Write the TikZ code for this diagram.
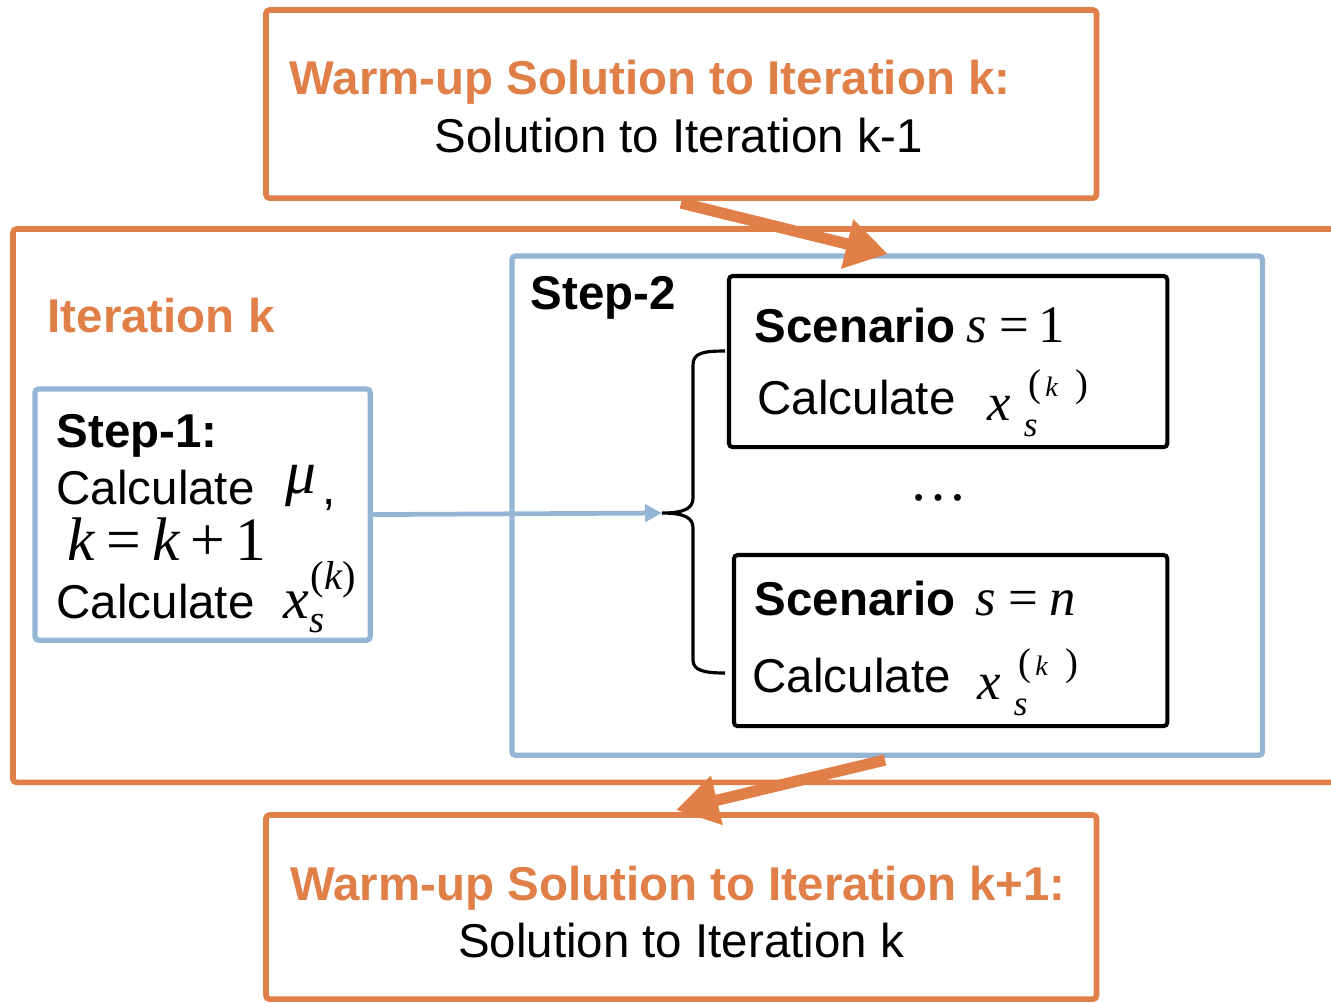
\documentclass[tikz,border=0pt]{standalone}
\usepackage{fontspec}
\setmainfont{Liberation Sans}
\newfontfamily\tnr{Liberation Serif}
\usetikzlibrary{arrows.meta}
\definecolor{warm}{HTML}{E07F47}
\definecolor{stepblue}{HTML}{94B6D4}
\newcommand\bodyfont{\fontsize{13.5}{16}\selectfont}
\newcommand\mathfont{\tnr\fontsize{16.5}{18}\selectfont}
\newcommand\bigmathfont{\tnr\fontsize{17.5}{19}\selectfont}
\newcommand\scenfont{\tnr\fontsize{15}{17}\selectfont}
% x_s^{(k)} as set inside the scenario boxes
\newcommand\scenx{{\itshape x}\hspace{3.6pt}\rlap{\raisebox{-4.6pt}{\fontsize{10}{10}\selectfont\itshape s}}\hspace{1.4pt}\raisebox{6.8pt}{\fontsize{11}{11}\selectfont(\hspace{1.1pt}{\fontsize{8}{8}\selectfont\itshape k}\hspace{5pt})}}
\begin{document}
\begin{tikzpicture}[x=0.01cm,y=-0.01cm,
  frame/.style={draw,line width=1.6pt,rounded corners=1pt,anchor=north west,inner sep=0pt,outer sep=0pt},
  orangebox/.style={frame,draw=warm},
  bluebox/.style={frame,draw=stepblue,line width=1.5pt},
  scenbox/.style={frame,draw=black,line width=1.15pt},
  txt/.style={inner sep=0pt,anchor=base west,font=\bodyfont},
  ctxt/.style={txt,anchor=base},
  title/.style={ctxt,font=\bodyfont\bfseries,text=warm},
  bold/.style={txt,font=\bodyfont\bfseries},
  mth/.style={inner sep=0pt,anchor=base west,font=\mathfont},
  smth/.style={inner sep=0pt,anchor=base west,font=\scenfont},
  fatarrow/.style={draw=warm,line width=3.2pt,-{Triangle[length=0.42cm,width=0.48cm]}},
  thinarrow/.style={draw=stepblue,line width=1.35pt,-{Triangle[length=0.17cm,width=0.17cm]}},
  bracestyle/.style={draw=black,line width=0.9pt}]
\useasboundingbox (0,0) rectangle (1331,1002);

% boxes
\node[orangebox,minimum width=8.30cm,minimum height=1.88cm] (prev) at (266,10) {};
\node[orangebox,minimum width=13.40cm,minimum height=5.53cm] (iter) at (13,229) {};
\node[bluebox,minimum width=7.50cm,minimum height=4.99cm] (step2) at (512,256) {};
\node[bluebox,minimum width=3.35cm,minimum height=2.51cm] (step1) at (35,389) {};
\node[scenbox,minimum width=4.38cm,minimum height=1.71cm] (scen1) at (729,276) {};
\node[scenbox,minimum width=4.33cm,minimum height=1.71cm] (scenn) at (734,555) {};
\node[orangebox,minimum width=8.30cm,minimum height=1.84cm] (next) at (266,815) {};

% texts of the warm-up boxes
\node[title] (prevtitle) at (650,94) {Warm-up Solution to Iteration k:};
\node[ctxt] (prevtext) at (679,152) {Solution to Iteration k-1};
\node[title] (nexttitle) at (678,900) {Warm-up Solution to Iteration k+1:};
\node[ctxt] (nexttext) at (681,957) {Solution to Iteration k};

% iteration label and step titles
\node[txt,font=\bodyfont\bfseries,text=warm] (iterlbl) at (47,332) {Iteration k};
\node[bold] (step2lbl) at (530,309) {Step-2};

% step 1
\node[bold] (s1a) at (56,447) {Step-1:};
\node[txt] (s1b) at (56,504) {Calculate};
\node[mth,font=\bigmathfont] (s1mu) at (285,493) {{\itshape μ}};
\node[txt] (s1comma) at (322,504) {,};
\node[mth,font=\bigmathfont] (s1k) at (67,560) {{\itshape k}\hspace{3.2pt}=\hspace{3.2pt}{\itshape k}\hspace{3pt}+\hspace{3pt}1};
\node[txt] (s1c) at (56,618) {Calculate};
\node[mth] (s1x) at (283,618) {{\itshape x}\rlap{\raisebox{-4.2pt}{\fontsize{11}{11}\selectfont\itshape s}}\hspace{0.3pt}\raisebox{8pt}{\fontsize{11.5}{12}\selectfont(\hspace{0.2pt}{\itshape k})}};

% scenario s = 1
\node[bold] (sc1a) at (754,342) {Scenario};
\node[smth] (sc1eq) at (966,342) {{\itshape s}\hspace{3.4pt}=\hspace{2.8pt}1};
\node[txt] (sc1b) at (757,414) {Calculate};
\node[smth] (sc1x) at (987,420) {\scenx};

% dots between the scenarios
\node[inner sep=0pt,anchor=base,font=\mathfont] (dots) at (938,500) {…};

% scenario s = n
\node[bold] (scna) at (754,615) {Scenario};
\node[smth] (scneq) at (975,615) {{\itshape s}\hspace{3.4pt}=\hspace{3.2pt}{\itshape n}};
\node[txt] (scnb) at (752,692) {Calculate};
\node[smth] (scnx) at (977,699) {\scenx};

% brace gathering the scenarios
\coordinate (bracetip) at (662,513);
\draw[bracestyle] (725,351) .. controls (703,351) and (693,353) .. (693,365) -- (693,498)
  .. controls (693,508) and (685,513) .. (bracetip)
  .. controls (685,513) and (693,518) .. (693,528) -- (693,660)
  .. controls (693,670) and (703,673) .. (725,673);

% connectors
\draw[thinarrow] (step1.east) -- (bracetip);
\coordinate (intail) at (681,203);
\coordinate (inhead) at (888,254);
\draw[fatarrow] (intail) -- (inhead);
\coordinate (outtail) at (885,760);
\coordinate (outhead) at (676,810);
\draw[fatarrow] (outtail) -- (outhead);
\end{tikzpicture}
\end{document}
